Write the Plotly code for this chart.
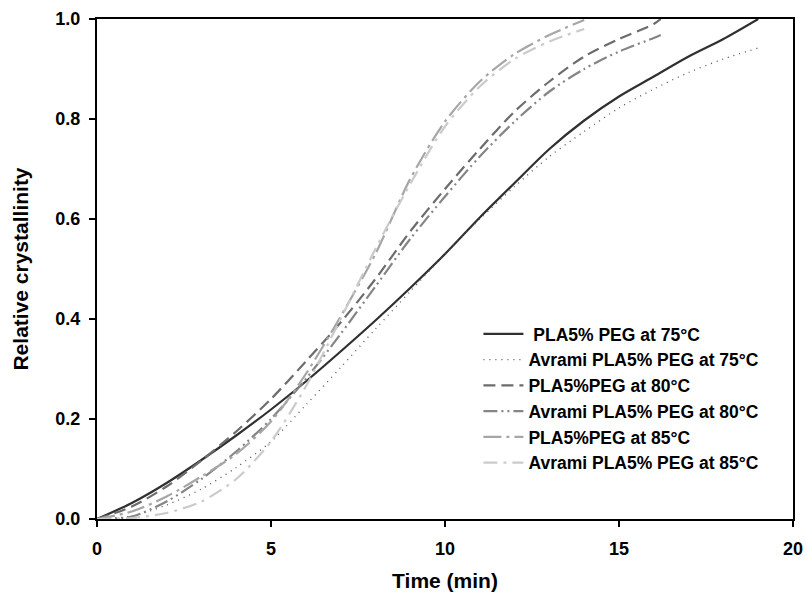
import plotly.graph_objects as go

# Time axis (min)
t75 = [0, 1, 2, 3, 4, 5, 6, 7, 8, 9, 10, 11, 12, 13, 14, 15, 16, 17, 18, 19]
y75_data = [0, 0.032, 0.072, 0.118, 0.167, 0.219, 0.275, 0.335, 0.397, 0.462, 0.53,
            0.603, 0.672, 0.74, 0.797, 0.845, 0.885, 0.925, 0.96, 1.0]
y75_avrami = [0, 0.006, 0.028, 0.06, 0.103, 0.155, 0.228, 0.303, 0.38, 0.455, 0.53,
              0.6, 0.665, 0.725, 0.775, 0.822, 0.86, 0.893, 0.92, 0.942]

t80 = [0, 1, 2, 3, 4, 5, 6, 7, 8, 9, 10, 11, 12, 13, 14, 15, 16, 16.2]
y80_data = [0, 0.025, 0.065, 0.117, 0.175, 0.24, 0.315, 0.393, 0.48, 0.575, 0.66,
            0.74, 0.815, 0.875, 0.925, 0.96, 0.99, 1.0]
y80_avrami = [0, 0.005, 0.035, 0.08, 0.135, 0.2, 0.28, 0.37, 0.465, 0.56, 0.645,
              0.725, 0.795, 0.855, 0.9, 0.935, 0.962, 0.968]

t85 = [0, 1, 2, 3, 4, 5, 6, 7, 8, 9, 10, 11, 12, 13, 14]
y85_data = [0, 0.015, 0.045, 0.085, 0.13, 0.195, 0.29, 0.405, 0.53, 0.68, 0.795,
            0.875, 0.93, 0.968, 0.998]
y85_avrami = [0, 0.002, 0.012, 0.035, 0.08, 0.155, 0.265, 0.4, 0.54, 0.67, 0.785,
              0.865, 0.92, 0.955, 0.98]

x_ticks = [0, 5, 10, 15, 20]
y_ticks = [0.0, 0.2, 0.4, 0.6, 0.8, 1.0]
y_tick_text = ["0.0", "0.2", "0.4", "0.6", "0.8", "1.0"]

names = ["\u00a0PLA5% PEG at 75°C", "Avrami PLA5% PEG at 75°C",
         "PLA5%PEG at 80°C", "Avrami PLA5% PEG at 80°C",
         "PLA5%PEG at 85°C", "Avrami PLA5% PEG at 85°C"]

fig = go.Figure()
series = [
    (t75, y75_data, names[0], "#303030", "solid", 2.2),
    (t75, y75_avrami, names[1], "#555555", "1px,5px", 1.3),
    (t80, y80_data, names[2], "#6c6c6c", "12px,6px", 2.2),
    (t80, y80_avrami, names[3], "#858585", "14px,4px,2px,4px,2px,4px", 2.2),
    (t85, y85_data, names[4], "#a6a6a6", "18px,5px,3px,5px", 2.2),
    (t85, y85_avrami, names[5], "#cbcbcb", "14px,6px,3px,6px", 2.2),
]
for x, y, n, c, d, w in series:
    fig.add_trace(go.Scatter(x=x, y=y, name=n, mode="lines",
                             line=dict(color=c, dash=d, width=w, shape="spline", smoothing=0.8)))

font_family = "Liberation Sans, Arial, sans-serif"
fig.update_layout(
    width=806, height=602,
    margin=dict(l=97, r=13, t=19, b=83),
    plot_bgcolor="white", paper_bgcolor="white",
    font=dict(family=font_family, color="black"),
    showlegend=True,
    legend=dict(x=0.548, y=0.406, xanchor="left", yanchor="top",
                bgcolor="rgba(0,0,0,0)", borderwidth=0,
                font=dict(size=17.5, family=font_family, color="black", weight="bold"),
                tracegroupgap=0, itemwidth=40),
)
fig.update_xaxes(
    range=[0, 20], tickmode="array", tickvals=x_ticks,
    ticks="outside", ticklen=6, tickwidth=1.5, tickcolor="black",
    showline=True, linecolor="black", linewidth=2, mirror=True,
    showgrid=False, zeroline=False, automargin=False, ticklabelstandoff=6,
    tickfont=dict(size=18, family=font_family, color="black", weight="bold"),
    title=dict(text="Time (min)", standoff=16,
               font=dict(size=21, family=font_family, color="black", weight="bold")),
)
fig.update_yaxes(
    range=[0, 1], tickmode="array", tickvals=y_ticks, ticktext=y_tick_text,
    ticks="outside", ticklen=6, tickwidth=1.5, tickcolor="black",
    showline=True, linecolor="black", linewidth=2, mirror=True,
    showgrid=False, zeroline=False, automargin=False, ticklabelstandoff=5,
    tickfont=dict(size=18, family=font_family, color="black", weight="bold"),
    title=dict(text="Relative crystallinity", standoff=21,
               font=dict(size=21, family=font_family, color="black", weight="bold")),
)
fig.write_html("out.html", config={"displayModeBar": False},
               post_script="document.body.style.margin='0';")
